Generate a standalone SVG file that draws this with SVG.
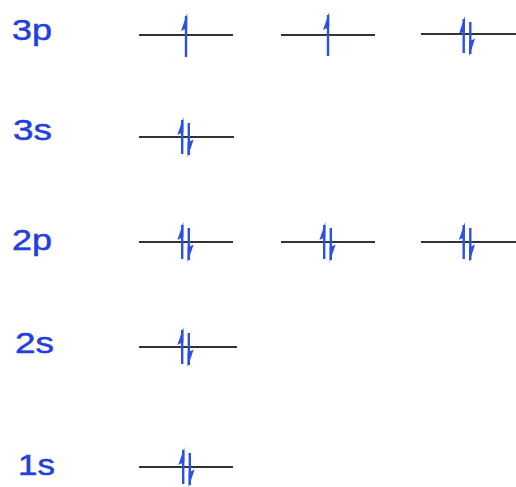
<svg xmlns="http://www.w3.org/2000/svg" width="516" height="487" viewBox="0 0 516 487">
<defs>
<style>
.lbl{font-family:"Liberation Sans",Arial,sans-serif;font-size:30px;fill:#2340dc;stroke:#2340dc;stroke-width:0.5;}
.lvl{stroke:#333;stroke-width:2;fill:none;}
.sh{stroke:#2a50e8;stroke-width:2.4;fill:none;}
.hd{fill:#2a50e8;stroke:none;}
</style>
<g id="up1"><path class="sh" d="M0,-19 V22"/><path class="hd" d="M1.2,-22 L-5,-4 L1.2,-7 Z"/></g>
<g id="up"><path class="sh" d="M0,-17 V17"/><path class="hd" d="M1.2,-20 L-4.8,-2 L1.2,-5 Z"/></g>
<g id="dn"><path class="sh" d="M0,-14 V18"/><path class="hd" d="M-1.2,20.5 L4.8,2.5 L-1.2,5.5 Z"/></g>
<g id="pair"><use href="#up" x="-3.3"/><use href="#dn" x="3.3"/></g>
</defs>
<rect width="516" height="487" fill="#fff"/>
<g id="labels">
<text class="lbl" x="12" y="40" textLength="40" lengthAdjust="spacingAndGlyphs">3p</text>
<text class="lbl" x="13" y="140" textLength="39" lengthAdjust="spacingAndGlyphs">3s</text>
<text class="lbl" x="12" y="250" textLength="40" lengthAdjust="spacingAndGlyphs">2p</text>
<text class="lbl" x="15" y="353" textLength="39" lengthAdjust="spacingAndGlyphs">2s</text>
<text class="lbl" x="18" y="475" textLength="37" lengthAdjust="spacingAndGlyphs">1s</text>
</g>
<g id="connectors">
<line class="lvl" x1="139" y1="35" x2="233" y2="35"/>
<line class="lvl" x1="281" y1="35" x2="375" y2="35"/>
<line class="lvl" x1="421" y1="34" x2="516" y2="34"/>
<line class="lvl" x1="139" y1="137" x2="234" y2="137"/>
<line class="lvl" x1="139" y1="242" x2="233" y2="242"/>
<line class="lvl" x1="281" y1="242" x2="375" y2="242"/>
<line class="lvl" x1="421" y1="242" x2="516" y2="242"/>
<line class="lvl" x1="139" y1="347" x2="237" y2="347"/>
<line class="lvl" x1="139" y1="467" x2="233" y2="467"/>
</g>
<g id="electrons">
<use href="#up1" x="186" y="35"/>
<use href="#up1" x="328" y="34"/>
<use href="#pair" x="467" y="36"/>
<use href="#pair" x="185.5" y="137"/>
<use href="#pair" x="185.5" y="242"/>
<use href="#pair" x="327.5" y="242"/>
<use href="#pair" x="467" y="242"/>
<use href="#pair" x="185.5" y="347"/>
<use href="#pair" x="186.5" y="467"/>
</g>
</svg>
